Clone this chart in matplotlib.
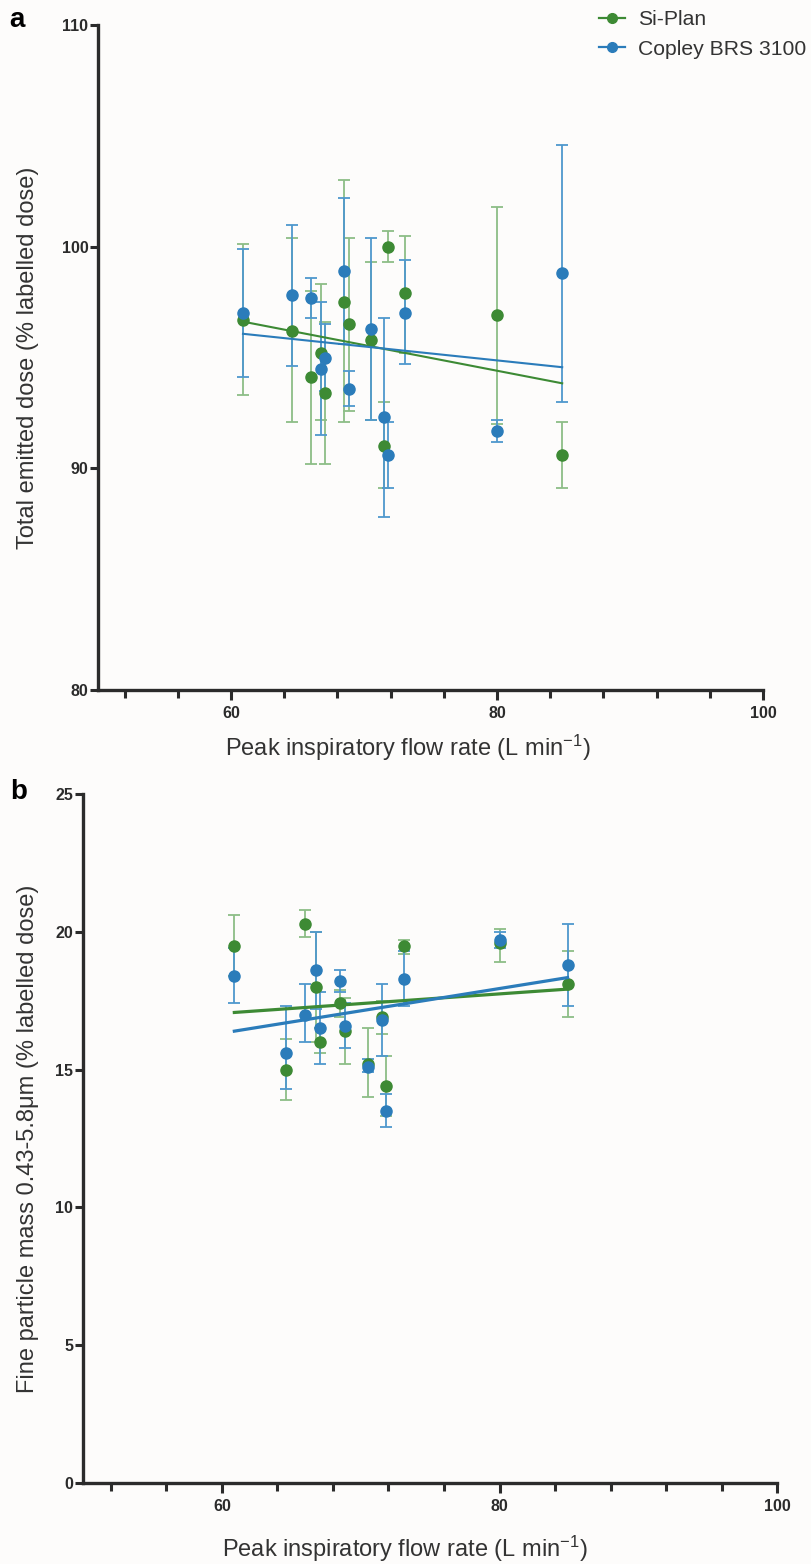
import matplotlib.pyplot as plt
import numpy as np

plt.rcParams['font.family'] = ['Liberation Sans', 'DejaVu Sans']
plt.rcParams['mathtext.default'] = 'regular'

# peak inspiratory flow rate (L/min)
pifr = [60.9, 64.6, 66.0, 66.8, 67.1, 68.5, 68.9, 70.5, 71.5, 71.8, 73.1, 80.0, 84.9]

# panel a: total emitted dose (% labelled dose), mean with low / high error
ted_si = [96.7, 96.2, 94.1, 95.2, 93.4, 97.5, 96.5, 95.8, 91.0, 100.0, 97.9, 96.9, 90.6]
ted_si_lo = [93.3, 92.1, 90.2, 92.2, 90.2, 92.1, 92.6, 92.2, 89.1, 99.3, 95.2, 92.0, 89.1]
ted_si_hi = [100.1, 100.4, 98.0, 98.3, 96.6, 103.0, 100.4, 99.3, 93.0, 100.7, 100.5, 101.8, 92.1]
ted_co = [97.0, 97.8, 97.7, 94.5, 95.0, 98.9, 93.6, 96.3, 92.3, 90.6, 97.0, 91.7, 98.8]
ted_co_lo = [94.1, 94.6, 96.8, 91.5, 93.5, 95.6, 92.8, 92.2, 87.8, 89.1, 94.7, 91.2, 93.0]
ted_co_hi = [99.9, 101.0, 98.6, 97.5, 96.5, 102.2, 94.4, 100.4, 96.8, 92.1, 99.4, 92.2, 104.6]

# panel b: fine particle mass 0.43-5.8 um (% labelled dose)
fpm_si = [19.5, 15.0, 20.3, 18.0, 16.0, 17.4, 16.4, 15.2, 16.9, 14.4, 19.5, 19.6, 18.1]
fpm_si_lo = [18.4, 13.9, 19.8, 16.0, 15.6, 16.9, 15.2, 14.0, 16.3, 13.3, 19.2, 18.9, 16.9]
fpm_si_hi = [20.6, 16.1, 20.8, 20.0, 16.5, 17.9, 17.6, 16.5, 17.5, 15.5, 19.7, 20.1, 19.3]
fpm_co = [18.4, 15.6, 17.0, 18.6, 16.5, 18.2, 16.6, 15.1, 16.8, 13.5, 18.3, 19.7, 18.8]
fpm_co_lo = [17.4, 14.3, 16.0, 17.2, 15.2, 17.8, 15.8, 14.9, 15.5, 12.9, 17.3, 19.4, 17.3]
fpm_co_hi = [19.4, 17.3, 18.1, 20.0, 17.8, 18.6, 17.4, 15.4, 18.1, 14.1, 19.3, 20.0, 20.3]

green = '#3d8a34'
blue = '#2b7cba'
green_err = '#8dbd86'
blue_err = '#4f98cd'
bg = '#fdfcfb'
ink = '#2b2b2b'

fig = plt.figure(figsize=(8.12, 15.64), dpi=100)
fig.patch.set_facecolor(bg)

ax1 = fig.add_axes([0.1207, 0.5588, 0.819, 0.4252])
ax2 = fig.add_axes([0.1022, 0.0518, 0.855, 0.4405])


def draw_panel(ax, y_si, lo_si, hi_si, y_co, lo_co, hi_co, line_w):
    x = np.array(pifr)
    for y, lo, hi, c, ce, lab in [(y_si, lo_si, hi_si, green, green_err, 'Si-Plan'),
                                  (y_co, lo_co, hi_co, blue, blue_err, 'Copley BRS 3100')]:
        y = np.array(y)
        err = [y - np.array(lo), np.array(hi) - y]
        ax.errorbar(x, y, yerr=err, fmt='none', ecolor=ce, elinewidth=1.3,
                    capsize=4.5, capthick=1.3, zorder=2)
        ax.plot(x, y, 'o', color=c, markersize=8, zorder=3)
        # linear regression line over the data range
        k, b = np.polyfit(x, y, 1)
        xs = np.array([x.min(), x.max()])
        ax.plot(xs, k * xs + b, color=c, linewidth=line_w, zorder=4)
        ax.plot([], [], 'o-', color=c, markersize=7, linewidth=1.6, label=lab)

    ax.set_facecolor(bg)
    ax.set_xlim(50, 100)
    ax.set_xticks([60, 80, 100])
    ax.set_xticks([52, 56, 64, 68, 72, 76, 84, 88, 92, 96], minor=True)
    for s in ['top', 'right']:
        ax.spines[s].set_visible(False)
    for s in ['left', 'bottom']:
        ax.spines[s].set_linewidth(2.4)
        ax.spines[s].set_color(ink)
    ax.tick_params(axis='both', which='both', direction='out', width=2.2,
                   color=ink, labelsize=11.5, labelcolor=ink)
    ax.tick_params(axis='x', which='major', length=7.5, pad=4)
    ax.tick_params(axis='x', which='minor', length=5.5)
    ax.tick_params(axis='y', length=6, pad=1)
    ax.set_xlabel('Peak inspiratory flow rate (L min$^{-1}$)', fontsize=17,
                  color='#333333')


draw_panel(ax1, ted_si, ted_si_lo, ted_si_hi, ted_co, ted_co_lo, ted_co_hi, 1.5)
ax1.set_ylim(80, 110)
ax1.set_yticks([80, 90, 100, 110])
ax1.set_ylabel('Total emitted dose (% labelled dose)', fontsize=17, color='#333333')
ax1.yaxis.set_label_coords(-0.088, 0.5)
ax1.xaxis.set_label_coords(0.466, -0.064)

draw_panel(ax2, fpm_si, fpm_si_lo, fpm_si_hi, fpm_co, fpm_co_lo, fpm_co_hi, 2.3)
ax2.set_ylim(0, 25)
ax2.set_yticks([0, 5, 10, 15, 20, 25])
ax2.set_ylabel('Fine particle mass 0.43-5.8\u03bcm (% labelled dose)', fontsize=17,
               color='#333333')
ax2.yaxis.set_label_coords(-0.063, 0.5)
ax2.xaxis.set_label_coords(0.463, -0.074)

for ax in (ax1, ax2):
    for t in ax.get_xticklabels() + ax.get_yticklabels():
        t.set_fontweight('bold')

h, l = ax1.get_legend_handles_labels()
fig.legend(h, l, loc='upper right', bbox_to_anchor=(0.993, 0.9935), frameon=False,
           fontsize=15.2, handlelength=1.25, handletextpad=0.6, labelspacing=0.5,
           borderpad=0, borderaxespad=0, labelcolor='#333333')

fig.text(0.012, 0.987, 'a', fontsize=20, fontweight='bold', va='center')
fig.text(0.012, 0.4935, 'b', fontsize=20, fontweight='bold', va='center')

plt.savefig('out.png', dpi=100, facecolor=bg)
